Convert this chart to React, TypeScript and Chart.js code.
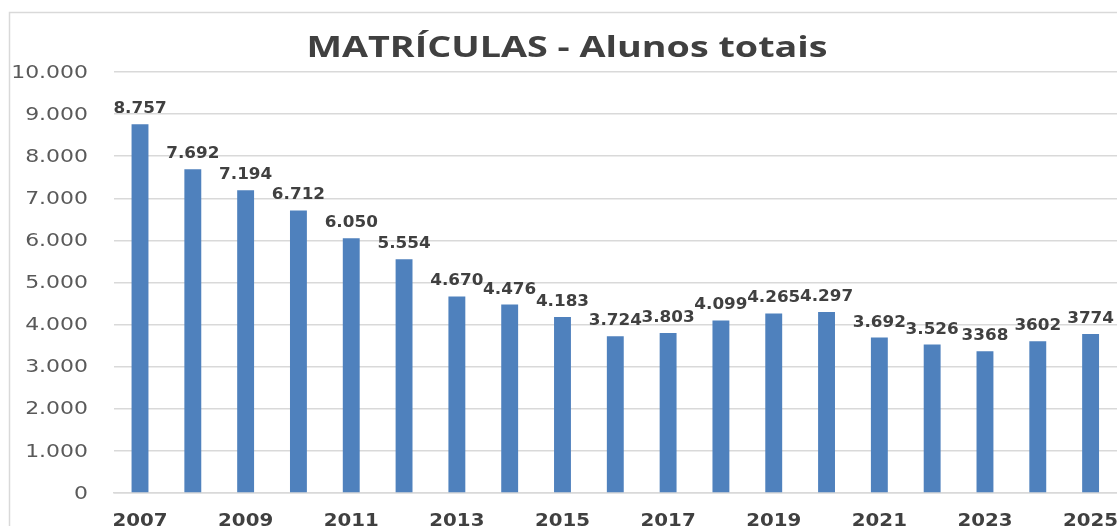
import React, { useEffect, useRef } from "react";
import { Chart, registerables } from "chart.js";

Chart.register(...registerables);

const years: string[] = [
  "2007", "2008", "2009", "2010", "2011", "2012", "2013", "2014", "2015", "2016",
  "2017", "2018", "2019", "2020", "2021", "2022", "2023", "2024", "2025",
];
const enrollments: number[] = [
  8757, 7692, 7194, 6712, 6050, 5554, 4670, 4476, 4183, 3724,
  3803, 4099, 4265, 4297, 3692, 3526, 3368, 3602, 3774,
];
const valueLabels: string[] = [
  "8.757", "7.692", "7.194", "6.712", "6.050", "5.554", "4.670", "4.476", "4.183", "3.724",
  "3.803", "4.099", "4.265", "4.297", "3.692", "3.526", "3368", "3602", "3774",
];
const yTickValues: number[] = [0, 1000, 2000, 3000, 4000, 5000, 6000, 7000, 8000, 9000, 10000];
const titleText = "MATRÍCULAS - Alunos totais";

const fmt = (v: number) => String(Math.round(v)).replace(/\B(?=(\d{3})+(?!\d))/g, ".");

function stretchedText(
  ctx: CanvasRenderingContext2D,
  text: string,
  x: number,
  y: number,
  sx: number,
  align: CanvasTextAlign,
  baseline: CanvasTextBaseline
) {
  ctx.save();
  ctx.translate(x, y);
  ctx.scale(sx, 1);
  ctx.textAlign = align;
  ctx.textBaseline = baseline;
  ctx.fillText(text, 0, 0);
  ctx.restore();
}

export default function App() {
  const ref = useRef<HTMLCanvasElement | null>(null);

  useEffect(() => {
    if (!ref.current) return;
    const decor = {
      id: "decor",
      beforeDraw(chart: any) {
        const ctx = chart.ctx;
        ctx.save();
        ctx.strokeStyle = "#d9d9d9";
        ctx.lineWidth = 1.5;
        ctx.beginPath();
        ctx.moveTo(9.5, 600);
        ctx.lineTo(9.5, 12.5);
        ctx.lineTo(1200, 12.5);
        ctx.stroke();
        ctx.restore();
      },
      afterDraw(chart: any) {
        const ctx = chart.ctx;
        const yScale = chart.scales.y;
        const xScale = chart.scales.x;
        ctx.save();
        // title
        ctx.fillStyle = "#404040";
        ctx.font = "bold 29px 'Open Sans'";
        stretchedText(ctx, titleText, 567, 57, 1.3, "center", "alphabetic");
        // y tick labels
        ctx.fillStyle = "#595959";
        ctx.font = "18px 'DejaVu Sans'";
        yTickValues.forEach((v) => {
          stretchedText(ctx, fmt(v), 88, yScale.getPixelForValue(v) + 1, 1.22, "right", "middle");
        });
        // x tick labels
        ctx.fillStyle = "#404040";
        ctx.font = "bold 18px 'DejaVu Sans'";
        years.forEach((y, i) => {
          if (i % 2 !== 0) return;
          stretchedText(ctx, y, xScale.getPixelForValue(i), 525.5, 1.1, "center", "alphabetic");
        });
        // data labels
        const meta = chart.getDatasetMeta(0);
        ctx.font = "bold 16px 'DejaVu Sans'";
        ctx.fillStyle = "#404040";
        meta.data.forEach((el: any, i: number) => {
          stretchedText(ctx, valueLabels[i], el.x, el.y - 11, 1.05, "center", "alphabetic");
        });
        ctx.restore();
      },
    };

    const chart = new Chart(ref.current, {
      type: "bar",
      data: {
        labels: years,
        datasets: [
          {
            data: enrollments,
            backgroundColor: "#4f81bd",
            borderWidth: 0,
            barPercentage: 1,
            categoryPercentage: 0.32,
          },
        ],
      },
      options: {
        animation: false,
        responsive: false,
        maintainAspectRatio: false,
        events: [],
        layout: { padding: { top: 72, left: 0, right: 0, bottom: 0 } },
        plugins: {
          legend: { display: false },
          title: { display: false },
          tooltip: { enabled: false },
        },
        scales: {
          x: {
            grid: { display: false, drawTicks: false },
            border: { display: true, color: "#d9d9d9", width: 1.5 },
            ticks: { display: false },
            afterFit: (s: any) => {
              s.height = 33;
            },
          },
          y: {
            min: 0,
            max: 10000,
            grid: { color: "#d9d9d9", lineWidth: 1.5, drawTicks: false },
            border: { display: false },
            ticks: { display: false, stepSize: 1000 },
            afterFit: (s: any) => {
              s.width = 113.6;
            },
          },
        },
      },
      plugins: [decor],
    });
    return () => chart.destroy();
  }, []);

  return (
    <div style={{ position: "fixed", left: 0, top: 0, width: 1117, height: 526, background: "#fff" }}>
      <canvas ref={ref} width={1117} height={526} style={{ display: "block", width: 1117, height: 526 }} />
    </div>
  );
}
